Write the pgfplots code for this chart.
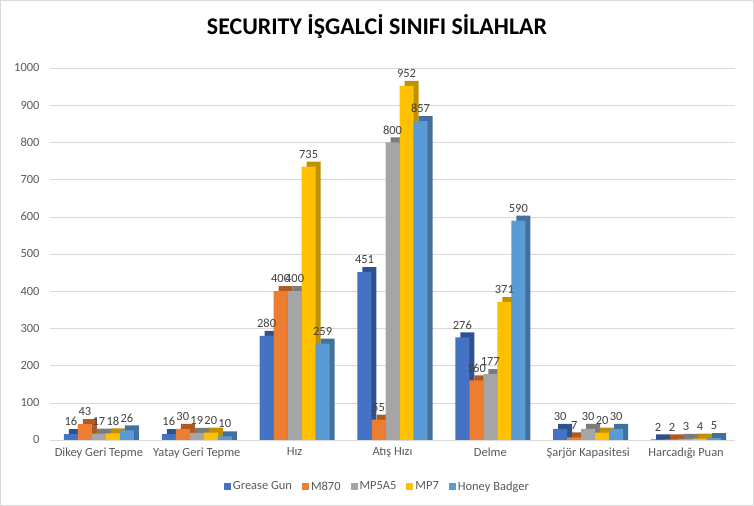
\documentclass[border=0pt]{standalone}
\usepackage{fontspec}
\setmainfont{Carlito}
\usepackage{pgfplots}
\pgfplotsset{compat=1.18}
\definecolor{cA}{HTML}{4472C4}\definecolor{sA}{HTML}{2F528F}
\definecolor{cB}{HTML}{ED7D31}\definecolor{sB}{HTML}{AE5A21}
\definecolor{cC}{HTML}{A5A5A5}\definecolor{sC}{HTML}{7B7B7B}
\definecolor{cD}{HTML}{FFC000}\definecolor{sD}{HTML}{BF9000}
\definecolor{cE}{HTML}{5B9BD5}\definecolor{sE}{HTML}{41719C}
\definecolor{txt}{HTML}{595959}
\definecolor{lbl}{HTML}{404040}
\definecolor{grd}{HTML}{D9D9D9}
\begin{document}
\begin{tikzpicture}
\path[use as bounding box] (0,0) rectangle (754bp,506bp);
\draw[grd] (0.5bp,0.5bp) rectangle (753.5bp,505.5bp);
\node[font=\fontsize{24}{28}\selectfont\bfseries, text=black] at (377bp,479bp) {SECURITY İŞGALCİ SINIFI SİLAHLAR};
\begin{axis}[
  at={(50bp,66bp)}, anchor=south west,
  scale only axis, width=685bp, height=372bp,
  xmin=-0.5, xmax=6.5, ymin=0, ymax=1000,
  ytick={0,100,...,1000},
  xtick={0,...,6},
  xticklabels={Dikey Geri Tepme,Yatay Geri Tepme,Hız,Atış Hızı,Delme,Şarjör Kapasitesi,Harcadığı Puan},
  ymajorgrids, grid style={grd},
  major tick length=0pt,
  axis line style={draw=none},
  tick label style={font=\fontsize{12.5}{14}\selectfont, text=txt},
  /pgf/number format/assume math mode=true,
  /pgf/number format/1000 sep={},
  yticklabel style={xshift=-7bp},
  xticklabel style={yshift=-4bp},
  bar width=14bp,
  clip=false,
  legend style={at={(0.478,-0.125)}, anchor=center, draw=none, fill=none,
    legend columns=5, font=\fontsize{12.5}{14}\selectfont, text=txt,
    /tikz/every even column/.append style={column sep=8bp}},
  legend image code/.code={\fill[#1] (0bp,-3.5bp) rectangle (7bp,3.5bp);},
  every node near coord/.append style={font=\fontsize{12.5}{14}\selectfont, text=lbl, inner sep=1bp, yshift=7bp},
]
% Grease Gun
\addplot[ybar, bar shift=0bp, fill=sA, draw=none, forget plot] coordinates {(-0.2351,29.4) (0.7649,29.4) (1.7649,293.4) (2.7649,464.4) (3.7649,289.4) (4.7649,43.4) (5.7649,15.4)};
\addplot[ybar, bar shift=0bp, fill=cA, draw=none, nodes near coords] coordinates {(-0.2862,16) (0.7138,16) (1.7138,280) (2.7138,451) (3.7138,276) (4.7138,30) (5.7138,2)};
\addlegendentry{Grease Gun}
% M870
\addplot[ybar, bar shift=0bp, fill=sB, draw=none, forget plot] coordinates {(-0.0920,56.4) (0.9080,43.4) (1.9080,413.4) (2.9080,68.4) (3.9080,173.4) (4.9080,20.4) (5.9080,15.4)};
\addplot[ybar, bar shift=0bp, fill=cB, draw=none, nodes near coords] coordinates {(-0.1431,43) (0.8569,30) (1.8569,400) (2.8569,55) (3.8569,160) (4.8569,7) (5.8569,2)};
\addlegendentry{M870}
% MP5A5
\addplot[ybar, bar shift=0bp, fill=sC, draw=none, forget plot] coordinates {(0.0511,30.4) (1.0511,32.4) (2.0511,413.4) (3.0511,813.4) (4.0511,190.4) (5.0511,43.4) (6.0511,16.4)};
\addplot[ybar, bar shift=0bp, fill=cC, draw=none, nodes near coords] coordinates {(0,17) (1,19) (2,400) (3,800) (4,177) (5,30) (6,3)};
\addlegendentry{MP5A5}
% MP7
\addplot[ybar, bar shift=0bp, fill=sD, draw=none, forget plot] coordinates {(0.1942,31.4) (1.1942,33.4) (2.1942,748.4) (3.1942,965.4) (4.1942,384.4) (5.1942,33.4) (6.1942,17.4)};
\addplot[ybar, bar shift=0bp, fill=cD, draw=none, nodes near coords] coordinates {(0.1431,18) (1.1431,20) (2.1431,735) (3.1431,952) (4.1431,371) (5.1431,20) (6.1431,4)};
\addlegendentry{MP7}
% Honey Badger
\addplot[ybar, bar shift=0bp, fill=sE, draw=none, forget plot] coordinates {(0.3373,39.4) (1.3373,23.4) (2.3373,272.4) (3.3373,870.4) (4.3373,603.4) (5.3373,43.4) (6.3373,18.4)};
\addplot[ybar, bar shift=0bp, fill=cE, draw=none, nodes near coords] coordinates {(0.2862,26) (1.2862,10) (2.2862,259) (3.2862,857) (4.2862,590) (5.2862,30) (6.2862,5)};
\addlegendentry{Honey Badger}
\end{axis}
\end{tikzpicture}
\end{document}
